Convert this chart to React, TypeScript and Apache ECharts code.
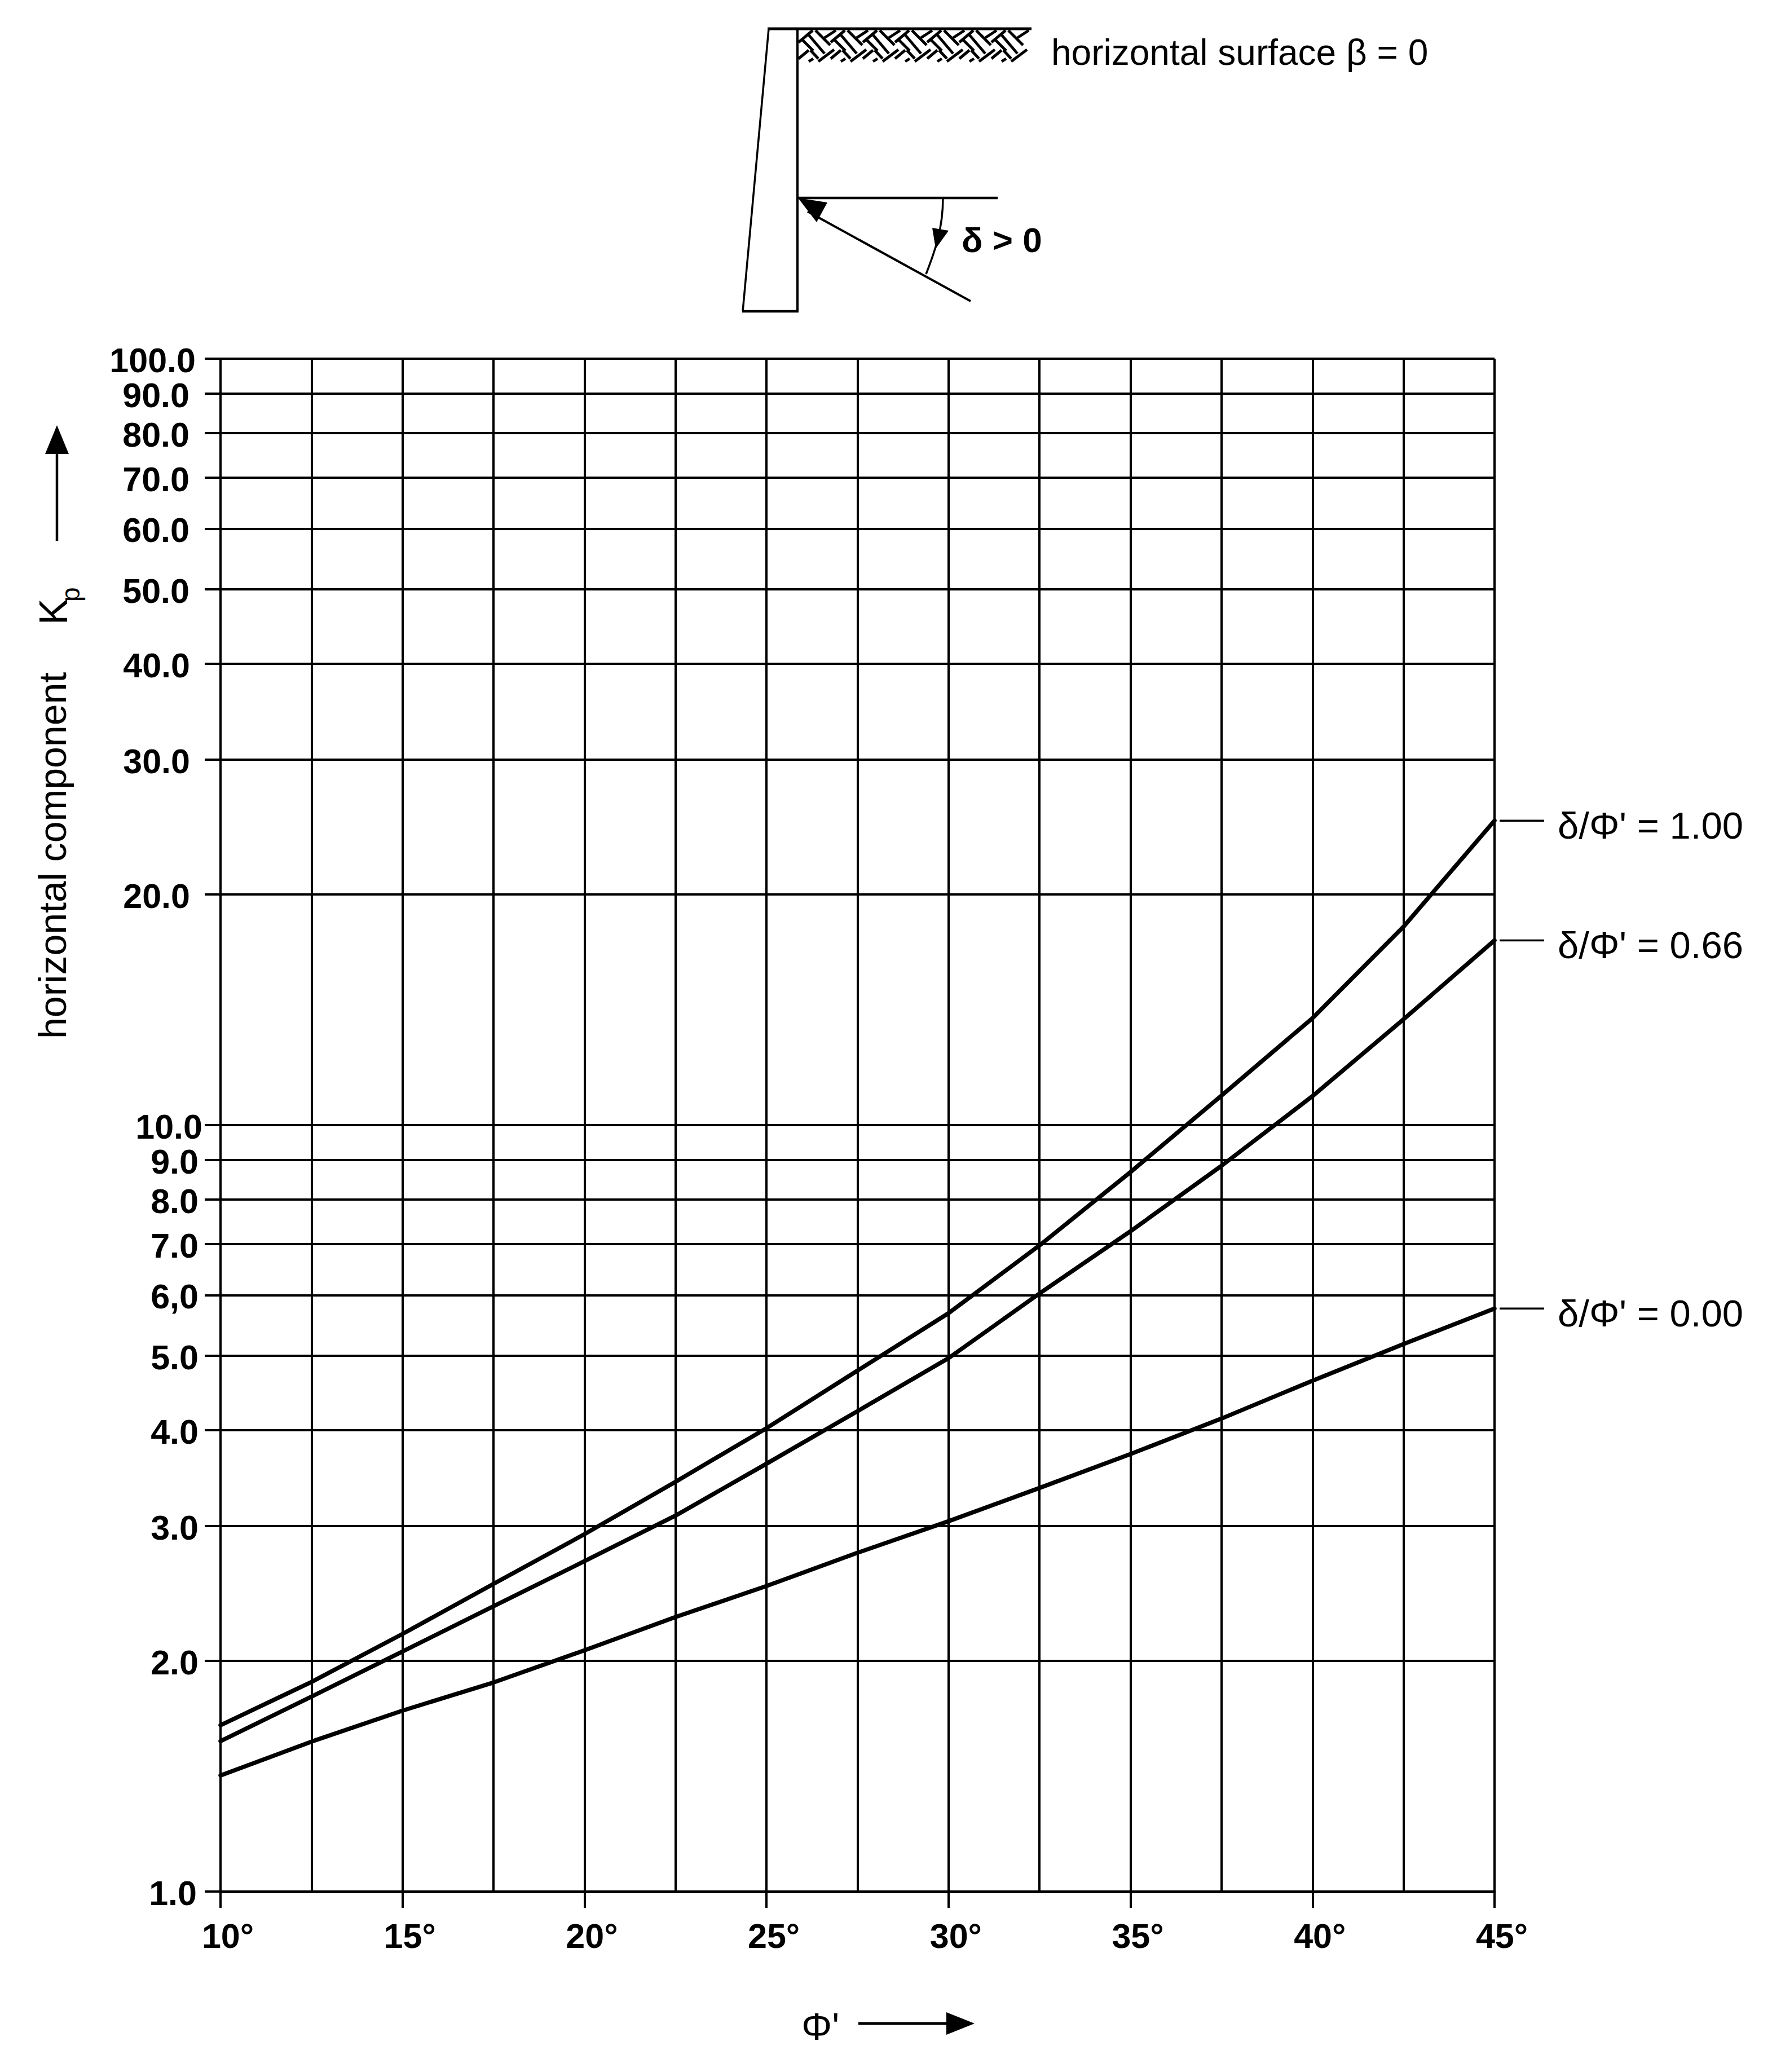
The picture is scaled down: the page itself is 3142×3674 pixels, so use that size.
import React, { useEffect, useRef } from "react";
import * as echarts from "echarts";

const FONT = '"Liberation Sans", Arial, sans-serif';

const phiValues = [10, 12.5, 15, 17.5, 20, 22.5, 25, 27.5, 30, 32.5, 35, 37.5, 40, 42.5, 45];
const kpRatio100 = [1.648, 1.877, 2.168, 2.52, 2.926, 3.425, 4.023, 4.783, 5.683, 6.967, 8.684, 10.93, 13.79, 18.15, 24.96];
const kpRatio066 = [1.571, 1.796, 2.057, 2.356, 2.698, 3.094, 3.616, 4.234, 4.965, 6.03, 7.27, 8.85, 10.91, 13.74, 17.42];
const kpRatio000 = [1.417, 1.569, 1.722, 1.874, 2.064, 2.281, 2.504, 2.767, 3.042, 3.362, 3.722, 4.141, 4.64, 5.18, 5.764];
const curveLabels = ["δ/Φ' = 1.00", "δ/Φ' = 0.66", "δ/Φ' = 0.00"];

const yTickValues = [1, 2, 3, 4, 5, 6, 7, 8, 9, 10, 20, 30, 40, 50, 60, 70, 80, 90, 100];
const yTickLabels = ["1.0", "2.0", "3.0", "4.0", "5.0", "6,0", "7.0", "8.0", "9.0", "10.0", "20.0", "30.0", "40.0", "50.0", "60.0", "70.0", "80.0", "90.0", "100.0"];
const yLabelInsets = [10, 7, 7, 7, 7, 7, 7, 7, 7, 0, 22, 22, 22, 23, 23, 23, 23, 23, 12];
const xTickValues = [10, 15, 20, 25, 30, 35, 40, 45];

// one repeat of the soil hatching, relative to the tile's corner
const hatchTile = [
  [2, 23, 27, 2], [48, 15, 68, 2], [2, 52, 20, 37], [20, 57, 28, 52], [37, 57, 65, 36],
  [8, 18, 28, 38], [20, 10, 48, 43], [32, 2, 58, 28], [23, 37, 37, 52],
];

const stroke = (w: number) => ({ stroke: "#000", lineWidth: w, fill: "none" });
const line = (x1: number, y1: number, x2: number, y2: number, w = 3) => ({
  type: "line", shape: { x1, y1, x2, y2 }, style: stroke(w),
});
const tri = (points: number[][]) => ({ type: "polygon", shape: { points }, style: { fill: "#000" } });
const label = (text: string, x: number, y: number, size: number, extra: any = {}, rotation = 0) => ({
  type: "text", x, y, rotation,
  style: { text, fontFamily: FONT, fontSize: size, fill: "#000", textAlign: "left", textVerticalAlign: "middle", ...extra },
});

function diagram() {
  const out: any[] = [];
  for (let k = 0; k < 8; k++) {
    for (const [a, b, c, d] of hatchTile) {
      const x0 = 1414 + 57 * k;
      if (x0 + Math.max(a, c) <= 1829) out.push({ ...line(x0 + a, 52 + b, x0 + c, 52 + d, 5) });
    }
  }
  out.push(
    line(1361, 51, 1829, 51, 5),
    line(1363, 51, 1317, 552, 3.5),
    line(1414, 51, 1414, 552, 4),
    line(1316, 552, 1416, 552, 4.5),
    line(1414, 351, 1769, 351, 4.5),
    line(1432, 375, 1721, 534, 4),
    tri([[1415, 351], [1467, 359], [1448, 394]]),
    { type: "bezierCurve", shape: { x1: 1672, y1: 351, cpx1: 1672, cpy1: 405, cpx2: 1658, cpy2: 445, x2: 1642, y2: 486 }, style: stroke(3.5) },
    tri([[1653, 404], [1682, 409], [1659, 441]]),
    label("horizontal surface β = 0", 1864, 93, 64),
    label("δ > 0", 1705, 425, 62, { fontWeight: "bold" }),
    // y title
    label("horizontal component", 93, 1842, 68, {}, Math.PI / 2),
    label("K", 95, 1108, 70, {}, Math.PI / 2),
    label("p", 125, 1067, 46, {}, Math.PI / 2),
    line(101, 959, 101, 800, 4.5),
    tri([[101, 754], [80, 805], [122, 805]]),
    // x title
    label("Φ'", 1421, 3593, 68),
    line(1522, 3588, 1680, 3588, 5),
    tri([[1678, 3568], [1728, 3588], [1678, 3608]]),
  );
  return out;
}

export default function App() {
  const ref = useRef<HTMLDivElement>(null);
  useEffect(() => {
    const chart = echarts.init(ref.current!, undefined, { renderer: "svg" });
    const makeSeries = (name: string, values: number[]) => ({
      type: "line",
      name,
      data: phiValues.map((p, i) => [p, values[i]]),
      symbol: "none",
      clip: false,
      lineStyle: { color: "#000", width: 7.5, cap: "round", join: "round" },
      endLabel: {
        show: true,
        distance: 9,
        formatter: () => `{rule| }{gap| }{txt|${name}}`,
        rich: {
          rule: { width: 79, height: 3.5, backgroundColor: "#000" },
          gap: { width: 24 },
          txt: { fontFamily: FONT, fontSize: 67, color: "#000", padding: [16, 0, 0, 0] },
        },
      },
    });
    const rich: any = {};
    yLabelInsets.forEach((inset, i) => {
      rich["r" + i] = { fontFamily: FONT, fontSize: 61, fontWeight: "bold", color: "#000", padding: [6, inset, 0, 0] };
    });
    chart.setOption({
      animation: false,
      backgroundColor: "#fff",
      grid: { left: 391, top: 636, width: 2259, height: 2718, containLabel: false },
      xAxis: {
        type: "value",
        min: 10,
        max: 45,
        interval: 5,
        splitNumber: 7,
        axisLine: { show: true, lineStyle: { color: "#000", width: 5 } },
        axisTick: { show: true, length: 29, lineStyle: { color: "#000", width: 4 } },
        minorTick: { show: false, splitNumber: 2 },
        splitLine: { show: true, lineStyle: { color: "#000", width: 4 } },
        minorSplitLine: { show: true, lineStyle: { color: "#000", width: 4 } },
        axisLabel: {
          customValues: xTickValues,
          formatter: (v: number) => `${v}°`,
          fontFamily: FONT,
          fontSize: 61,
          fontWeight: "bold",
          color: "#000",
          margin: 48,
          padding: [0, 0, 0, 26],
          showMinLabel: true,
          showMaxLabel: true,
        },
      },
      yAxis: {
        type: "log",
        logBase: 10,
        min: 1,
        max: 100,
        axisLine: { show: true, lineStyle: { color: "#000", width: 4 } },
        axisTick: { show: true, length: 28, customValues: yTickValues, lineStyle: { color: "#000", width: 4 } },
        splitLine: { show: true, lineStyle: { color: "#000", width: 4 } },
        minorSplitLine: { show: false },
        axisLabel: {
          customValues: yTickValues,
          margin: 32,
          hideOverlap: false,
          rich,
          formatter: (v: number) => {
            let best = 0;
            yTickValues.forEach((t, i) => {
              if (Math.abs(Math.log10(t) - Math.log10(v)) < Math.abs(Math.log10(yTickValues[best]) - Math.log10(v))) best = i;
            });
            return `{r${best}|${yTickLabels[best]}}`;
          },
        },
      },
      series: [
        makeSeries(curveLabels[0], kpRatio100),
        makeSeries(curveLabels[1], kpRatio066),
        makeSeries(curveLabels[2], kpRatio000),
      ],
      graphic: { elements: diagram() },
    });
    return () => chart.dispose();
  }, []);
  return <div ref={ref} style={{ position: "absolute", left: 0, top: 0, width: 3142, height: 3674, background: "#fff" }} />;
}
